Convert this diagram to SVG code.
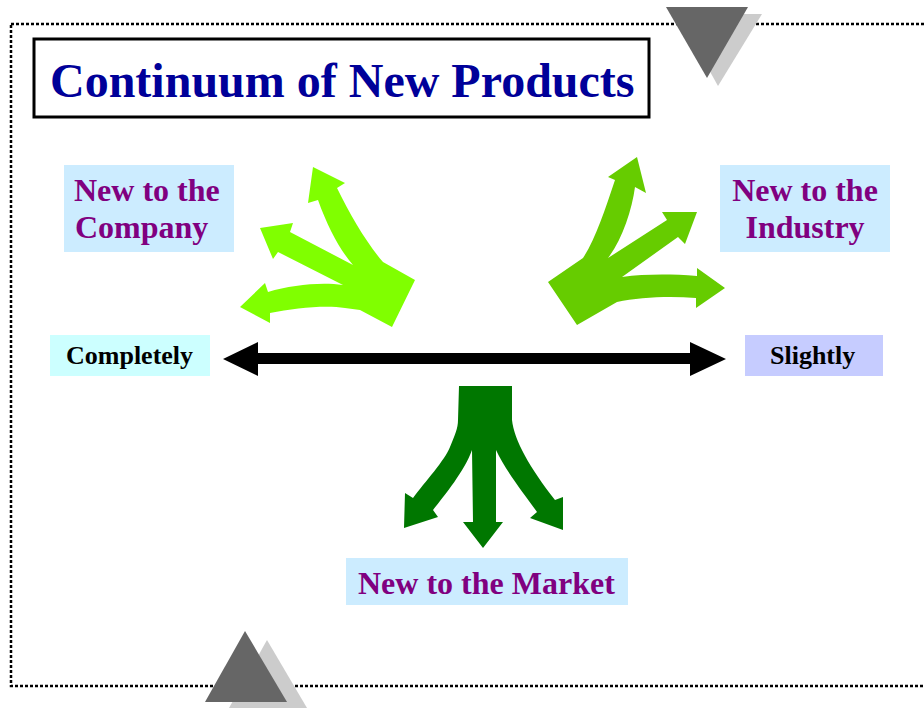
<svg xmlns="http://www.w3.org/2000/svg" width="924" height="708" viewBox="0 0 924 708">
<style>
.serif{font-family:"Liberation Serif","Times New Roman",serif;font-weight:bold}
.lbl{font-size:32px;fill:#800080}
.end{font-size:26px;fill:#000}
.box{fill:#CCECFF}
</style>
<rect width="924" height="708" fill="#fff"/>
<g id="border">
<rect x="11" y="24" width="930" height="662" fill="none" stroke="#000" stroke-width="2.5" stroke-dasharray="3 2"/>
</g>
<g id="decor">
<polygon points="678,14 762,14 718,86" fill="#CCCCCC"/>
<polygon points="666,7 748,7 707,78" fill="#666666"/>
<polygon points="267,640 229,708 307,708" fill="#CCCCCC"/>
<polygon points="245,631 205,702 287,702" fill="#666666"/>
</g>
<g id="title">
<rect x="34" y="39" width="615" height="78" fill="#fff" stroke="#000" stroke-width="3"/>
<text class="serif" x="50" y="97" font-size="48" fill="#000099">Continuum of New Products</text>
</g>
<g id="connectors">
<path id="company-arrows" fill="#80FF00" d="M415,280 L383,262 C368,245 350,215 337,188 L345,183 L313,167 L308,203 L318,200 C328,228 340,250 353,265 L290,232 L293,223 L260,228 L273,259 L278,252 L343,285 C320,282 292,285 268,292 L265,283 L240,307 L270,323 L270,313 C295,308 325,305 345,308 L360,310 L392,327 Z"/>
<path id="industry-arrows" fill="#66CC00" d="M577,325 L548,282 L583,258 C595,240 605,210 615,180 L608,177 L637,157 L646,193 L635,187 C632,210 622,240 608,258 L667,220 L662,212 L697,212 L685,244 L678,237 L622,277 C645,274 670,274 697,276 L697,268 L725,288 L696,308 L696,298 C670,296 640,297 617,302 Z"/>
<path id="market-arrows" fill="#007700" d="M459,386 L512,386 L512,420 C514,440 530,468 555,500 L563,497 L563,530 L530,518 L537,512 C525,495 505,470 496,450 L496,522 L503,522 L483,548 L463,522 L473,522 L472,450 C465,470 445,495 433,510 L438,517 L404,528 L405,493 L413,498 C425,482 445,460 450,447 C455,435 458,428 458,420 Z"/>
<path id="continuum" fill="#000" d="M223,359 L258,342 L258,353 L690,353 L690,342 L726,359 L690,376 L690,364 L258,364 L258,376 Z"/>
</g>
<g id="label-company">
<rect class="box" x="64" y="165" width="170" height="87"/>
<text class="serif lbl" x="74" y="201">New to the</text>
<text class="serif lbl" x="75" y="238">Company</text>
</g>
<g id="label-industry">
<rect class="box" x="720" y="165" width="170" height="87"/>
<text class="serif lbl" x="805" y="201" text-anchor="middle">New to the</text>
<text class="serif lbl" x="805" y="238" text-anchor="middle">Industry</text>
</g>
<g id="label-completely">
<rect x="50" y="335" width="160" height="41" fill="#CCFFFF"/>
<text class="serif end" x="66" y="364">Completely</text>
</g>
<g id="label-slightly">
<rect x="745" y="335" width="138" height="41" fill="#C6CCFF"/>
<text class="serif end" x="770" y="364">Slightly</text>
</g>
<g id="label-market">
<rect class="box" x="346" y="558" width="282" height="47"/>
<text class="serif lbl" x="358" y="594">New to the Market</text>
</g>
</svg>
